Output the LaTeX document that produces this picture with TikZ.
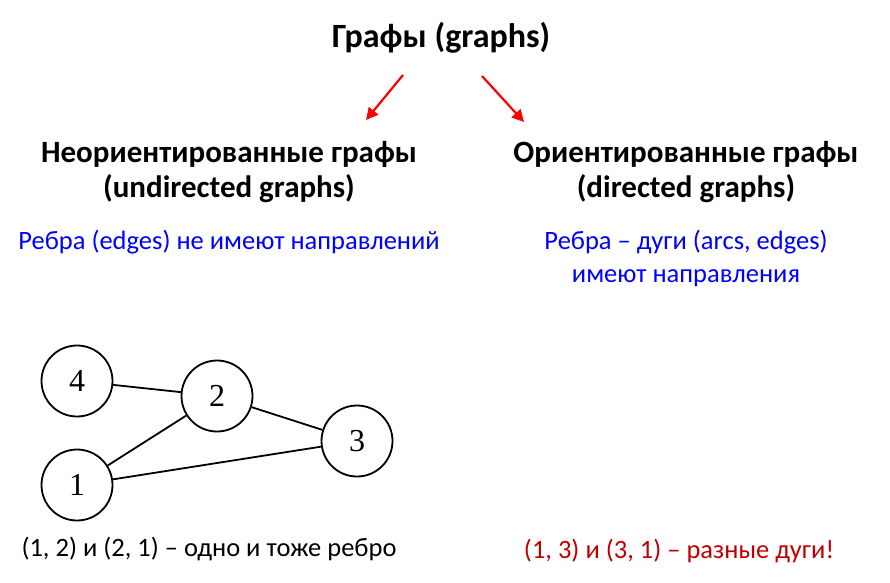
\documentclass[tikz,border=0pt]{standalone}
\usepackage{fontspec}
\setmainfont{Carlito}
\newfontfamily\vertexfont{Liberation Serif}
\usetikzlibrary{arrows.meta}
\definecolor{textblue}{RGB}{0,0,255}
\definecolor{textred}{RGB}{192,0,0}

\begin{document}
\begin{tikzpicture}[x=1pt,y=-1pt,
    vertex/.style={draw,circle,line width=1.8pt,minimum size=71pt,inner sep=0pt,
      font=\vertexfont\fontsize{32}{32}\selectfont},
    link/.style={line width=1.8pt},
    branch/.style={red,line width=2.2pt,-{Triangle[length=12pt,width=12pt]}},
    heading/.style={font=\bfseries\fontsize{31}{35}\selectfont,align=center},
    remark/.style={font=\fontsize{26.5}{33}\selectfont,align=center}]
    \pgfmathsetmacro{\leftColumn}{229}
    \pgfmathsetmacro{\rightColumn}{686}

    \useasboundingbox (0,0) rectangle (890,582);

    % Titel
    \node[font=\bfseries\fontsize{34}{34}\selectfont] (title) at (441,38) {Графы (graphs)};

    % Pfeile
    \coordinate (leftTail) at (403,75);
    \coordinate (leftTip) at (366,120);
    \coordinate (rightTail) at (482,76);
    \coordinate (rightTip) at (524,122);
    \draw[branch] (leftTail) -- (leftTip);
    \draw[branch] (rightTail) -- (rightTip);

    % Ungerichtet
    \node[heading] (undirected) at (\leftColumn,172) {Неориентированные графы\\(undirected graphs)};
    \node[remark,textblue] (edges) at (\leftColumn,242) {Ребра (edges) не имеют направлений};

    % Gerichtet
    \node[heading] (directed) at (\rightColumn,172) {Ориентированные графы\\(directed graphs)};
    \node[remark,textblue] (arcs) at (\rightColumn,258) {Ребра -- дуги (arcs, edges)\\имеют направления};

    % Graph
    \node[vertex] (v4) at (77,381) {4};
    \node[vertex] (v2) at (217,396) {2};
    \node[vertex] (v1) at (77,485) {1};
    \node[vertex] (v3) at (357,441) {3};
    \draw[link] (v4) -- (v2);
    \draw[link] (v2) -- (v1);
    \draw[link] (v2) -- (v3);
    \draw[link] (v1) -- (v3);

    % Unterschriften
    \node[remark] (sameEdge) at (209,549) {(1, 2) и (2, 1) -- одно и тоже ребро};
    \node[remark,textred] (twoArcs) at (679,551) {(1, 3) и (3, 1) -- разные дуги!};
\end{tikzpicture}
\end{document}
